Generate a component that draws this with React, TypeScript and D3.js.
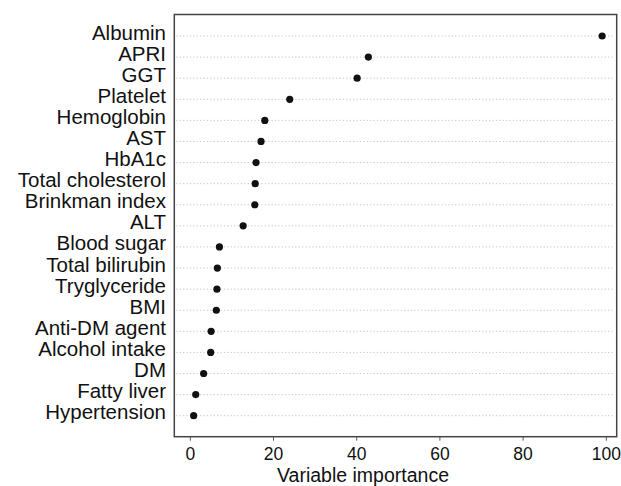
import React from "react";
import * as d3 from "d3";

const categories = [
  "Albumin", "APRI", "GGT", "Platelet", "Hemoglobin", "AST", "HbA1c",
  "Total cholesterol", "Brinkman index", "ALT", "Blood sugar", "Total bilirubin",
  "Tryglyceride", "BMI", "Anti-DM agent", "Alcohol intake", "DM", "Fatty liver", "Hypertension",
];
const importance = [99, 42.8, 40.1, 23.9, 17.9, 17.0, 15.8, 15.6, 15.5, 12.7, 7.0, 6.5, 6.4, 6.25, 5.0, 4.9, 3.2, 1.3, 0.8];
const xTicks = [0, 20, 40, 60, 80, 100];
const xTitle = "Variable importance";

const W = 621, H = 486;
const left = 174.3, right = 616.7, top = 14.5, bottom = 436.7;
const font = "'Liberation Sans', Arial, Helvetica, sans-serif";

export default function App() {
  const x = d3.scaleLinear().domain([-3.85, 102.5]).range([left, right]);
  const y = d3.scalePoint<string>().domain(categories).range([36, 415.7]);
  return (
    <svg width={W} height={H} style={{ position: "absolute", left: 0, top: 0, background: "#fff" }}>
      <rect x={0} y={0} width={W} height={H} fill="#fff" />
      {categories.map((c) => (
        <line key={"g" + c} x1={left + 2} x2={right - 2} y1={y(c)} y2={y(c)}
          stroke="#b5b5b5" strokeWidth={0.8} strokeDasharray="1.2,2.2" />
      ))}
      <rect x={left} y={top} width={right - left} height={bottom - top} fill="none" stroke="#444" strokeWidth={1.5} />
      {xTicks.map((t) => (
        <g key={"t" + t}>
          <line x1={x(t)} x2={x(t)} y1={bottom} y2={bottom + 4} stroke="#555" strokeWidth={1} />
          <text x={x(t)} y={460} textAnchor="middle" fontFamily={font} fontSize={17.5} fill="#111">{t}</text>
        </g>
      ))}
      {categories.map((c, i) => (
        <g key={"p" + c}>
          <text x={166} y={(y(c) as number) + 3.5} textAnchor="end" fontFamily={font} fontSize={20.5} fill="#111">{c}</text>
          <circle cx={x(importance[i])} cy={y(c)} r={3.6} fill="#111" />
        </g>
      ))}
      <text x={363} y={482} textAnchor="middle" fontFamily={font} fontSize={19.5} fill="#111">{xTitle}</text>
    </svg>
  );
}
